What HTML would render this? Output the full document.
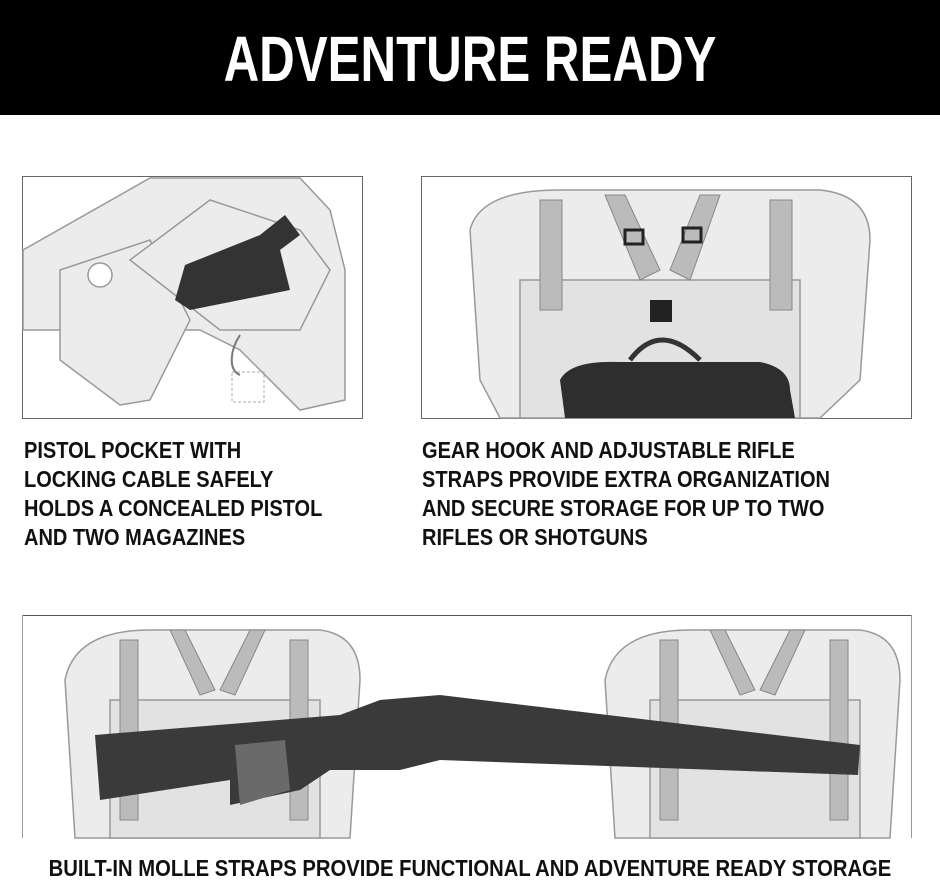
<!DOCTYPE html>
<html><head><meta charset="utf-8">
<style>
body{margin:0;width:940px;height:881px;background:#fff;position:relative;overflow:hidden;font-family:"Liberation Sans",sans-serif;}
.hdr{position:absolute;left:0;top:0;width:940px;height:115px;background:#000;}
.hdr div{position:absolute;left:0;width:940px;top:24px;text-align:center;color:#fff;font-weight:bold;font-size:64px;line-height:70px;transform:scaleX(0.77);transform-origin:center;white-space:nowrap;}
.t{position:absolute;font-weight:bold;font-size:23px;line-height:29px;color:#111;white-space:nowrap;transform:scaleX(0.87);transform-origin:left top;}
svg{position:absolute;left:0;top:0;}
</style></head><body>
<div class="hdr"><div>ADVENTURE READY</div></div>
<svg width="940" height="881">
<rect x="22.5" y="176.5" width="340" height="242" fill="#fff" stroke="#666"/>
<g stroke="#999" stroke-width="1.5" fill="#ececec">
<path d="M23 250 L150 178 L300 178 L330 210 L345 270 L345 400 L300 410 L240 350 L200 330 L120 330 L23 330 Z"/>
<path d="M60 270 L150 240 L190 320 L150 400 L120 405 L60 360 Z"/>
<path d="M130 260 L210 200 L300 230 L330 270 L300 330 L220 330 Z"/>
<circle cx="100" cy="275" r="12" fill="#fff"/>
</g>
<path d="M175 300 L185 265 L260 235 L285 215 L300 235 L280 250 L290 290 L190 310 Z" fill="#333"/>
<path d="M240 335 C230 350 228 370 240 375" stroke="#777" stroke-width="2" fill="none"/>
<rect x="232" y="372" width="32" height="30" fill="none" stroke="#aaa" stroke-dasharray="3,2"/>
<rect x="421.5" y="176.5" width="490" height="242" fill="#fff" stroke="#666"/>
<g stroke="#999" stroke-width="1.5" fill="#ececec">
<path d="M470 230 Q480 190 560 190 L820 190 Q870 195 870 240 L860 380 L820 418 L500 418 L480 380 Z"/>
<rect x="520" y="280" width="280" height="138" fill="#e2e2e2"/>
</g>
<g fill="#bbb" stroke="#888">
<rect x="540" y="200" width="22" height="110"/><rect x="770" y="200" width="22" height="110"/>
<path d="M605 195 L625 195 L660 270 L640 280 Z"/><path d="M720 195 L700 195 L670 270 L690 280 Z"/>
</g>
<rect x="625" y="230" width="18" height="14" fill="none" stroke="#222" stroke-width="3"/>
<rect x="683" y="228" width="18" height="14" fill="none" stroke="#222" stroke-width="3"/>
<rect x="650" y="300" width="22" height="22" fill="#222"/>
<path d="M630 360 Q660 320 700 360" stroke="#333" stroke-width="5" fill="none"/>
<path d="M565 418 L560 380 Q570 360 620 362 L760 362 Q790 368 790 390 L795 418 Z" fill="#2e2e2e"/>
<line x1="22" y1="615.5" x2="912" y2="615.5" stroke="#555"/>
<line x1="22.5" y1="615" x2="22.5" y2="838" stroke="#999"/>
<line x1="911.5" y1="615" x2="911.5" y2="838" stroke="#999"/>
<g stroke="#999" stroke-width="1.5" fill="#ececec">
<path d="M65 680 Q75 630 150 630 L320 630 Q360 635 360 680 L350 838 L75 838 Z"/>
<path d="M605 680 Q615 630 690 630 L860 630 Q900 635 900 680 L890 838 L615 838 Z"/>
<rect x="110" y="700" width="210" height="138" fill="#e2e2e2"/>
<rect x="650" y="700" width="210" height="138" fill="#e2e2e2"/>
</g>
<g fill="#bbb" stroke="#888">
<rect x="120" y="640" width="18" height="180"/><rect x="290" y="640" width="18" height="180"/>
<rect x="660" y="640" width="18" height="180"/><rect x="830" y="640" width="18" height="180"/>
<path d="M170 630 L185 630 L215 690 L200 695 Z"/><path d="M265 630 L250 630 L220 690 L235 695 Z"/>
<path d="M710 630 L725 630 L755 690 L740 695 Z"/><path d="M805 630 L790 630 L760 690 L775 695 Z"/>
</g>
<path d="M95 735 L340 715 L380 700 L440 695 L860 745 L858 775 L440 760 L400 770 L330 770 L300 790 L230 805 L230 780 L100 800 Z" fill="#3a3a3a"/>
<path d="M235 745 L285 740 L290 790 L240 805 Z" fill="#6a6a6a"/>
</svg>
<div class="t" style="left:24px;top:436px">PISTOL POCKET WITH<br>LOCKING CABLE SAFELY<br>HOLDS A CONCEALED PISTOL<br>AND TWO MAGAZINES</div>
<div class="t" style="left:422px;top:436px">GEAR HOOK AND ADJUSTABLE RIFLE<br>STRAPS PROVIDE EXTRA ORGANIZATION<br>AND SECURE STORAGE FOR UP TO TWO<br>RIFLES OR SHOTGUNS</div>
<div class="t" style="left:-100px;width:1140px;text-align:center;top:854px;transform-origin:center top;transform:scaleX(0.88);">BUILT-IN MOLLE STRAPS PROVIDE FUNCTIONAL AND ADVENTURE READY STORAGE</div>
</body></html>
